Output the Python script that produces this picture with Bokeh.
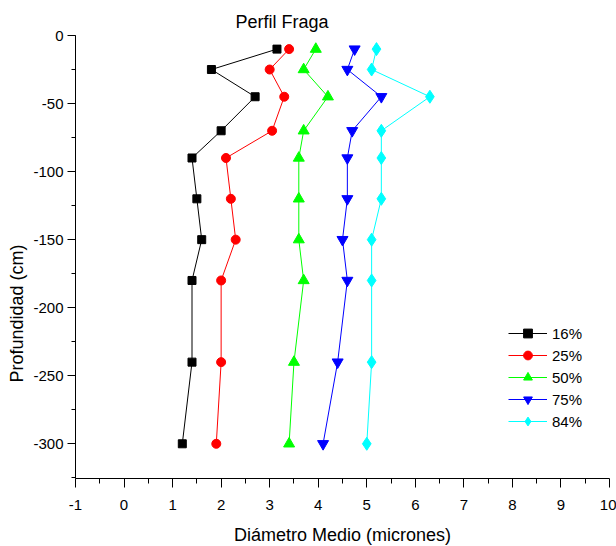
from bokeh.plotting import figure
from bokeh.models import Range1d, FixedTicker, Legend, LegendItem, Title
from bokeh.embed import file_html
from bokeh.resources import INLINE

# ---- data ----
depth = [-10, -25, -45, -70, -90, -120, -150, -180, -240, -300]
d16 = [3.15, 1.8, 2.7, 2.0, 1.4, 1.5, 1.6, 1.4, 1.4, 1.2]
d25 = [3.4, 3.0, 3.3, 3.05, 2.1, 2.2, 2.3, 2.0, 2.0, 1.9]
d50 = [3.95, 3.7, 4.2, 3.7, 3.6, 3.6, 3.6, 3.7, 3.5, 3.4]
d75 = [4.75, 4.6, 5.3, 4.7, 4.6, 4.6, 4.5, 4.6, 4.4, 4.1]
d84 = [5.2, 5.1, 6.3, 5.3, 5.3, 5.3, 5.1, 5.1, 5.1, 5.0]
series_labels = ["16%", "25%", "50%", "75%", "84%"]
x_ticks = list(range(-1, 11))
x_minor = [v + 0.5 for v in range(-1, 10)]
y_ticks = list(range(-300, 1, 50))
y_minor = list(range(-325, 1, 25))

title_text = "Perfil Fraga"
x_title = "Diámetro Medio (micrones)"
y_title = "Profundidad (cm)"

FONT = "Liberation Sans"

p = figure(frame_width=534, frame_height=443, output_backend="svg", toolbar_location=None,
           x_range=Range1d(-1, 10), y_range=Range1d(-325.5, 0),
           min_border_left=75, min_border_right=7, min_border_top=35, min_border_bottom=68)
p.outline_line_color = None
p.xgrid.visible = False
p.ygrid.visible = False
p.background_fill_color = "white"
p.border_fill_color = "white"

p.xaxis.ticker = FixedTicker(ticks=x_ticks, minor_ticks=x_minor)
p.yaxis.ticker = FixedTicker(ticks=y_ticks, minor_ticks=y_minor)
p.xaxis.major_label_overrides = {t: str(t) for t in x_ticks}
p.yaxis.major_label_overrides = {t: str(t) for t in y_ticks}

for ax, tick_out, minor_out in ((p.xaxis, 9, 5), (p.yaxis, 8, 4)):
    ax.axis_line_color = "black"
    ax.axis_line_width = 1
    ax.major_tick_line_color = "black"
    ax.minor_tick_line_color = "black"
    ax.major_tick_in = 0
    ax.major_tick_out = tick_out
    ax.minor_tick_in = 0
    ax.minor_tick_out = minor_out
    ax.major_label_text_font = FONT
    ax.major_label_text_font_size = "15px"
    ax.major_label_text_color = "black"

p.xaxis.major_label_standoff = 12
p.yaxis.major_label_standoff = 4

p.xaxis.axis_label = x_title
p.xaxis.axis_label_text_font = FONT
p.xaxis.axis_label_text_font_size = "18px"
p.xaxis.axis_label_text_font_style = "normal"
p.xaxis.axis_label_text_color = "black"
p.xaxis.axis_label_standoff = 12

# series
colors = ["black", "#FF0000", "#00FF00", "#0000FF", "#00FFFF"]
markers = ["square", "circle", "triangle", "inverted_triangle", "diamond"]
sizes = [8, 9, 11, 11, 13]
values = [d16, d25, d50, d75, d84]

items = []
for vals, col, mk, sz, lab in zip(values, colors, markers, sizes, series_labels):
    lr = p.line(vals, depth, line_color=col, line_width=1)
    sr = p.scatter(vals, depth, marker=mk, size=sz, fill_color=col, line_color=col)
    items.append(LegendItem(label=lab, renderers=[lr, sr]))

legend = Legend(items=items, location=(433, 46), padding=0, margin=0, spacing=0,
                glyph_width=39, glyph_height=22, label_standoff=5,
                border_line_color=None, background_fill_alpha=0,
                label_text_font=FONT, label_text_font_size="15px",
                label_text_color="black")
p.add_layout(legend, "center")

# title
p.title.text = title_text
p.title.align = "left"
p.title.offset = 160
p.title.standoff = 7
p.title.text_font = FONT
p.title.text_font_size = "18px"
p.title.text_font_style = "normal"
p.title.text_color = "black"

# y-axis title (as a left-side title so it can sit off-centre like the reference)
p.add_layout(Title(text=y_title, align="left", offset=96, standoff=8,
                   text_font=FONT, text_font_size="18px", text_font_style="normal",
                   text_color="black"), "left")

open("out.html", "w").write(file_html(p, INLINE))
